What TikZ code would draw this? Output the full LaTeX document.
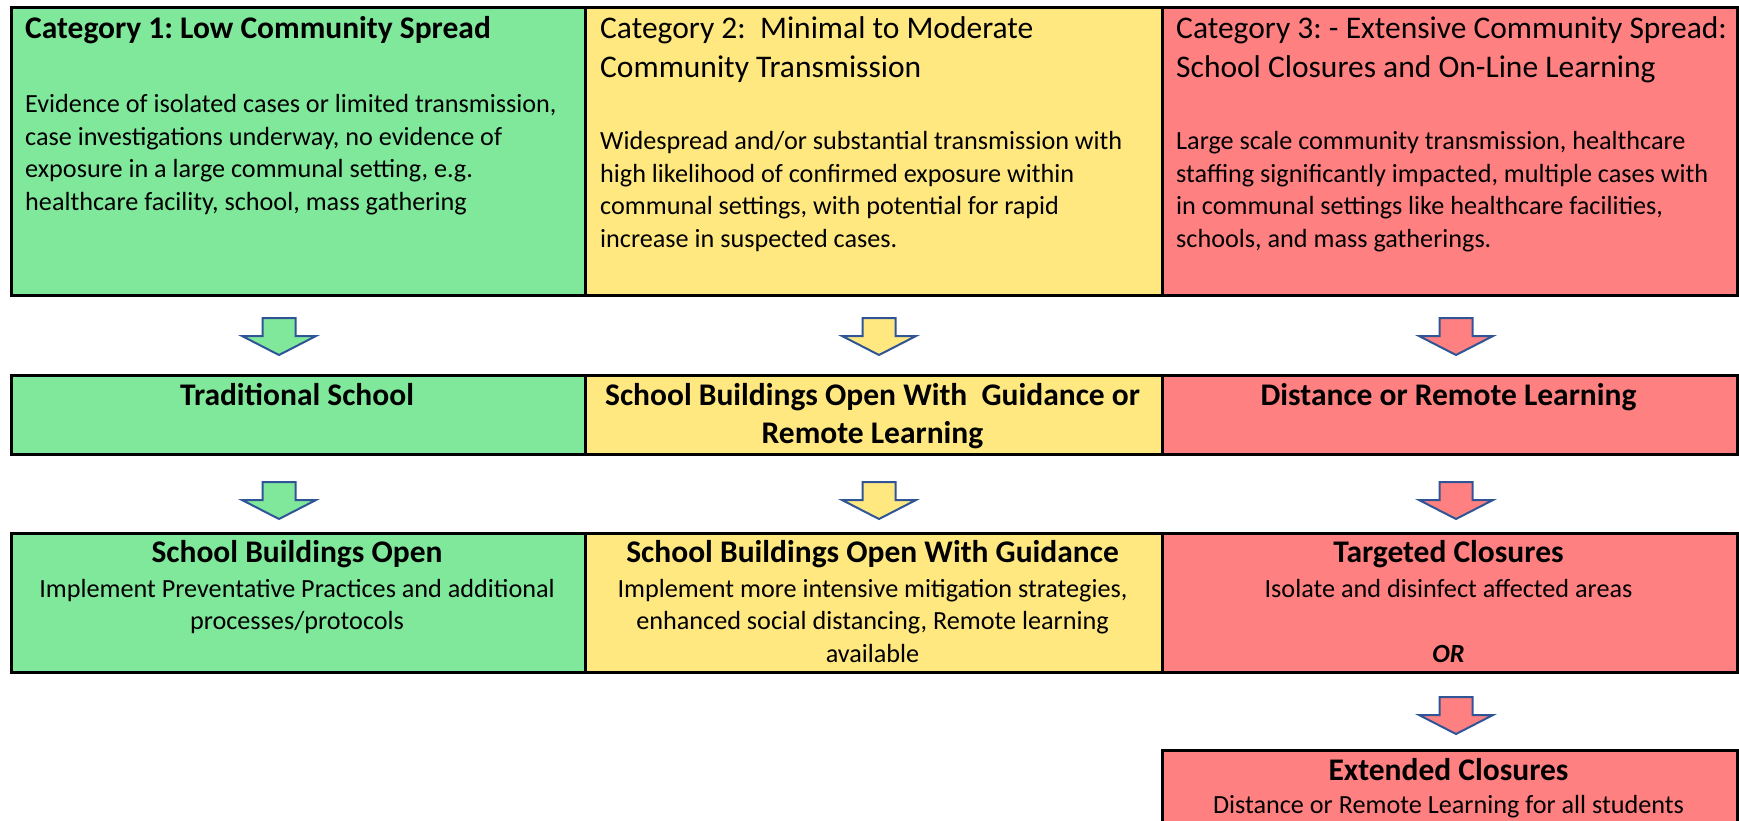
\documentclass[tikz,border=0pt]{standalone}
\usepackage{fontspec}
\setmainfont{Carlito}
\frenchspacing
\definecolor{cgreen}{RGB}{128,232,155}
\definecolor{cyellow}{RGB}{255,232,128}
\definecolor{cred}{RGB}{255,128,128}
\definecolor{arrowblue}{RGB}{47,85,151}
\newcommand{\headfont}{\fontsize{31.5}{38.5}\selectfont}
\newcommand{\bodyfont}{\fontsize{26.2}{32.5}\selectfont}
\newcommand{\blockarrow}[3]{%
  \draw[arrowline, fill=#3] (#1,#2) ++(-16.5,0) -- ++(33,0) -- ++(0,18) -- ++(20.5,0)
    -- ++(-37,19) -- ++(-37,-19) -- ++(20.5,0) -- cycle;}
\begin{document}
\begin{tikzpicture}[x=1pt,y=-1pt,
  cell/.style={draw=black, line width=2.8pt, rectangle, inner sep=0pt, anchor=north west},
  arrowline/.style={draw=arrowblue, line width=2pt, line join=miter},
  ltext/.style={anchor=base west, inner sep=0pt},
  ctext/.style={anchor=base, inner sep=0pt}]
\clip (0,0) rectangle (1739,821);
\fill[white] (0,0) rectangle (1739,821);
% top row
\node[cell, fill=cgreen, minimum width=574pt, minimum height=288pt] (t1) at (10,6) {};
\node[cell, fill=cyellow, minimum width=577pt, minimum height=288pt] (t2) at (584,6) {};
\node[cell, fill=cred, minimum width=575pt, minimum height=288pt] (t3) at (1161,6) {};
% middle row
\node[cell, fill=cgreen, minimum width=574pt, minimum height=79pt] (m1) at (10,374) {};
\node[cell, fill=cyellow, minimum width=577pt, minimum height=79pt] (m2) at (584,374) {};
\node[cell, fill=cred, minimum width=575pt, minimum height=79pt] (m3) at (1161,374) {};
% bottom row
\node[cell, fill=cgreen, minimum width=574pt, minimum height=139pt] (b1) at (10,532) {};
\node[cell, fill=cyellow, minimum width=577pt, minimum height=139pt] (b2) at (584,532) {};
\node[cell, fill=cred, minimum width=575pt, minimum height=139pt] (b3) at (1161,532) {};
% extended
\node[cell, fill=cred, minimum width=575pt, minimum height=100pt] (e3) at (1161,749) {};

% top texts
\node[ltext] (t1h) at (25,39) {\parbox[t]{560pt}{\headfont\bfseries Category 1: Low Community Spread}};
\node[ltext] (t1b) at (25,113) {\parbox[t]{560pt}{\raggedright\bodyfont Evidence of isolated cases or limited transmission,\\ case investigations underway, no evidence of\\ exposure in a large communal setting, e.g.\\ healthcare facility, school, mass gathering}};
\node[ltext] (t2h) at (600,39) {\parbox[t]{560pt}{\raggedright\headfont Category 2:~ Minimal to Moderate\\ Community Transmission}};
\node[ltext] (t2b) at (600,150) {\parbox[t]{560pt}{\raggedright\bodyfont Widespread and/or substantial transmission with\\ high likelihood of confirmed exposure within\\ communal settings, with potential for rapid\\ increase in suspected cases.}};
\node[ltext] (t3h) at (1176,39) {\parbox[t]{560pt}{\raggedright\headfont Category 3: - Extensive Community Spread:\\ School Closures and On-Line Learning}};
\node[ltext] (t3b) at (1176,150) {\parbox[t]{560pt}{\raggedright\bodyfont Large scale community transmission, healthcare\\ staffing significantly impacted, multiple cases with\\ in communal settings like healthcare facilities,\\ schools, and mass gatherings.}};

% middle texts
\node[ctext] (m1t) at (297,405) {\parbox[t]{570pt}{\centering\headfont\bfseries Traditional School}};
\node[ctext] (m2t) at (872.5,405) {\parbox[t]{570pt}{\centering\headfont\bfseries School Buildings Open With~ Guidance or\\ Remote Learning}};
\node[ctext] (m3t) at (1448.5,405) {\parbox[t]{570pt}{\centering\headfont\bfseries Distance or Remote Learning}};

% bottom texts
\node[ctext] (b1h) at (297,562) {\parbox[t]{570pt}{\centering\headfont\bfseries School Buildings Open}};
\node[ctext] (b1b) at (297,597) {\parbox[t]{570pt}{\centering\bodyfont Implement Preventative Practices and additional\\ processes/protocols}};
\node[ctext] (b2h) at (872.5,562) {\parbox[t]{570pt}{\centering\headfont\bfseries School Buildings Open With Guidance}};
\node[ctext] (b2b) at (872.5,597) {\parbox[t]{570pt}{\centering\bodyfont Implement more intensive mitigation strategies,\\ enhanced social distancing, Remote learning\\ available}};
\node[ctext] (b3h) at (1448.5,562) {\parbox[t]{570pt}{\centering\headfont\bfseries Targeted Closures}};
\node[ctext] (b3b) at (1448.5,597) {\parbox[t]{570pt}{\centering\bodyfont Isolate and disinfect affected areas}};
\node[ctext] (b3or) at (1448.5,662) {\parbox[t]{570pt}{\centering\bodyfont\bfseries\itshape OR}};

% extended texts
\node[ctext] (e3h) at (1448.5,780) {\parbox[t]{570pt}{\centering\headfont\bfseries Extended Closures}};
\node[ctext] (e3b) at (1448.5,813) {\parbox[t]{570pt}{\centering\bodyfont Distance or Remote Learning for all students}};

% block arrows
\blockarrow{279}{318}{cgreen}
\blockarrow{879}{318}{cyellow}
\blockarrow{1456}{318}{cred}
\blockarrow{279}{482}{cgreen}
\blockarrow{879}{482}{cyellow}
\blockarrow{1456}{482}{cred}
\blockarrow{1456}{697}{cred}
\end{tikzpicture}
\end{document}
